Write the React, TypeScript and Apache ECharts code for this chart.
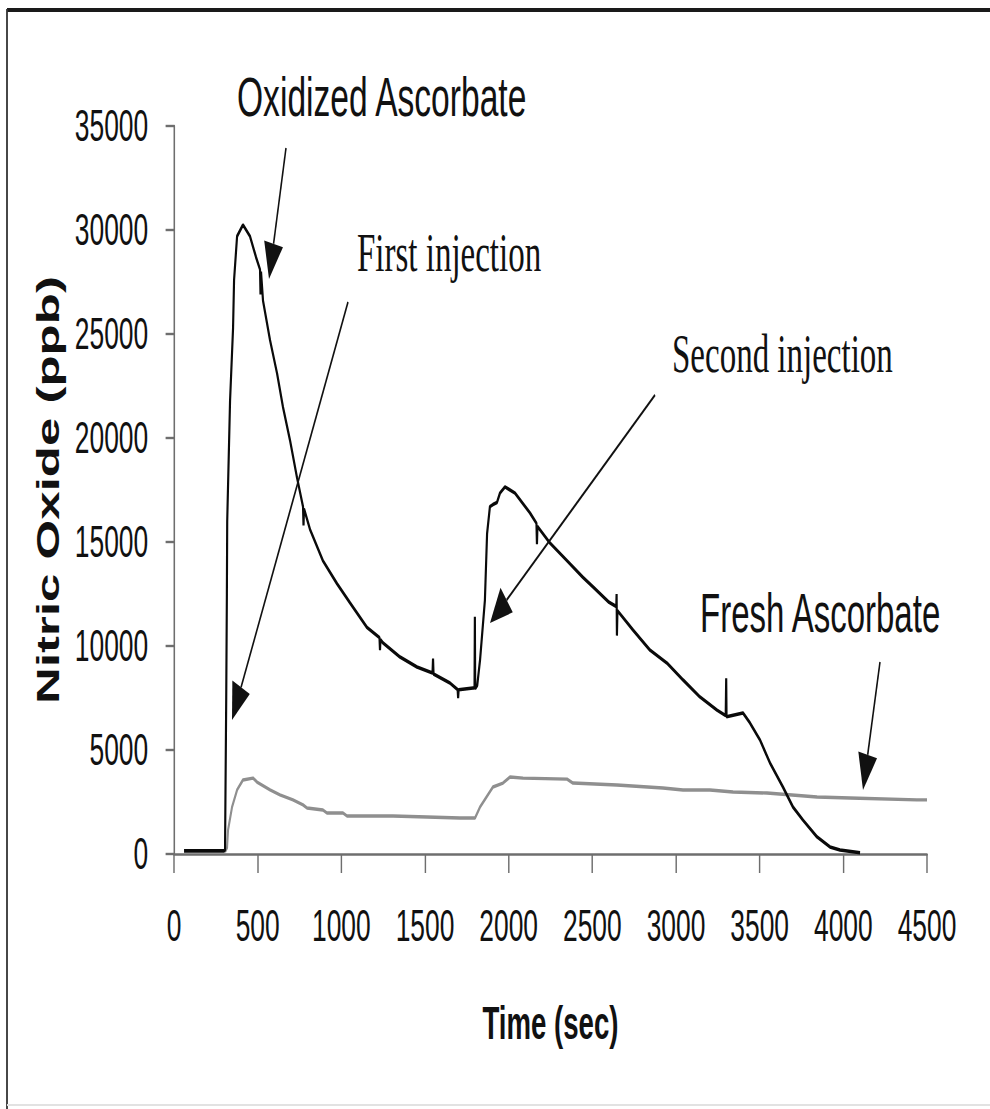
import React, { useEffect, useRef } from "react";
import * as echarts from "echarts";

// ---- data ----
const xTicks = [0, 500, 1000, 1500, 2000, 2500, 3000, 3500, 4000, 4500];
const yTicks = [0, 5000, 10000, 15000, 20000, 25000, 30000, 35000];

const oxidizedTime = [
  60, 300, 305, 312, 316, 318, 335, 353, 359, 377, 412, 454, 490, 514, 517, 520, 532, 574, 616, 651,
  693, 735, 771, 774, 777, 813, 890, 974, 1052, 1153, 1228, 1231, 1234, 1249, 1351, 1452, 1545, 1548,
  1551, 1649, 1695, 1698, 1701, 1787, 1796, 1798, 1800, 1812, 1829, 1858, 1871, 1888, 1906, 1930, 1948,
  1978, 2038, 2127, 2166, 2169, 2172, 2247, 2349, 2444, 2504, 2600, 2643, 2645, 2647, 2650, 2743, 2845,
  2946, 3042, 3143, 3245, 3297, 3300, 3302, 3400, 3442, 3502, 3562, 3639, 3699, 3759, 3843, 3920, 3980,
  4100,
];
const oxidizedNO = [
  150, 150, 200, 7400, 12500, 16000, 21800, 25300, 27600, 29700, 30250, 29700, 28700, 28100, 26900,
  28000, 26600, 24700, 23100, 21500, 19900, 18100, 16700, 15800, 16600, 15600, 14100, 13000, 12070,
  10900, 10400, 9800, 10300, 10150, 9470, 8990, 8700, 9400, 8650, 8220, 7900, 7500, 7900, 7980, 7980,
  11400, 7950, 8100, 9330, 12200, 15400, 16700, 16800, 16900, 17350, 17650, 17350, 16400, 15900, 14900,
  15750, 14950, 14100, 13300, 12840, 12100, 11900, 12500, 10500, 11700, 10770, 9800, 9180, 8370, 7550,
  6920, 6650, 8450, 6600, 6780, 6300, 5480, 4375, 3220, 2260, 1630, 820, 340, 190, 60,
];

const freshTime = [
  305, 317, 323, 347, 377, 412, 472, 496, 574, 633, 711, 771, 795, 890, 914, 1010, 1034, 1309, 1512,
  1709, 1799, 1829, 1906, 1966, 2008, 2086, 2349, 2384, 2647, 2922, 3042, 3203, 3341, 3544, 3843, 4040,
  4440, 4500,
];
const freshNO = [
  100, 300, 1150, 2260, 3080, 3560, 3650, 3460, 3080, 2840, 2600, 2360, 2210, 2115, 1970, 1970, 1830,
  1830, 1780, 1730, 1730, 2260, 3220, 3410, 3700, 3650, 3600, 3410, 3320, 3170, 3080, 3080, 2980, 2930,
  2740, 2690, 2600, 2600,
];

const seriesNames = ["Oxidized Ascorbate", "Fresh Ascorbate"];
const xAxisName = "Time (sec)";
const yAxisName = "Nitric Oxide (ppb)";

// ---- layout helpers (the original picture is horizontally compressed) ----
const SQUEEZE = 0.6;
const W = 990;
const H = 1109;
const CW = W / SQUEEZE;
const ux = (x: number) => x / SQUEEZE;

function arrow(sx: number, sy: number, tx: number, ty: number) {
  const x0 = ux(sx), y0 = sy, x1 = ux(tx), y1 = ty;
  const dx = x1 - x0, dy = y1 - y0;
  const len = Math.sqrt(dx * dx + dy * dy);
  const nx = dx / len, ny = dy / len;
  const L = 36, HW = 16;
  const bx = x1 - nx * L, by = y1 - ny * L;
  const px = -ny, py = nx;
  return [
    {
      type: "line",
      shape: { x1: x0, y1: y0, x2: bx, y2: by },
      style: { stroke: "#111", lineWidth: 2.6 },
      z: 100,
    },
    {
      type: "polygon",
      shape: {
        points: [
          [x1, y1],
          [bx + px * HW, by + py * HW],
          [bx - px * HW, by - py * HW],
        ],
      },
      style: { fill: "#111" },
      z: 100,
    },
  ];
}

function label(text: string, left: number, cy: number, family: string, size: number) {
  return {
    type: "text",
    x: ux(left),
    y: cy,
    z: 100,
    style: {
      text,
      fontSize: size,
      fontFamily: family,
      fill: "#111",
      align: "left",
      verticalAlign: "middle",
    },
  };
}

const SANS = "'Liberation Sans', Arial, sans-serif";
const SERIF = "'Liberation Serif', 'Times New Roman', serif";

export default function App() {
  const ref = useRef<HTMLDivElement>(null);

  useEffect(() => {
    if (!ref.current) return;
    const chart = echarts.init(ref.current, undefined, { renderer: "svg" });
    const oxData = oxidizedTime.map((t, i) => [t, oxidizedNO[i]]);
    const frData = freshTime.map((t, i) => [t, freshNO[i]]);

    chart.setOption({
      animation: false,
      backgroundColor: "#ffffff",
      grid: { left: 290, right: CW - ux(927), top: 126, bottom: H - 854, containLabel: false },
      xAxis: {
        type: "value",
        min: xTicks[0],
        max: xTicks[xTicks.length - 1],
        interval: 500,
        name: xAxisName,
        nameLocation: "middle",
        nameGap: 146,
        nameTextStyle: { fontFamily: SANS, fontWeight: "bold", fontSize: 46, color: "#111" },
        axisLine: { show: true, onZero: false, lineStyle: { color: "#6e6e6e", width: 2.6 } },
        axisTick: { show: true, inside: false, length: 19, lineStyle: { color: "#6e6e6e", width: 2.4 } },
        axisLabel: {
          fontFamily: SANS,
          fontSize: 44,
          color: "#111",
          margin: 50,
          formatter: (v: number) => String(v),
        },
        splitLine: { show: false },
      },
      yAxis: {
        type: "value",
        min: yTicks[0],
        max: yTicks[yTicks.length - 1],
        interval: 5000,
        name: yAxisName,
        nameLocation: "middle",
        nameRotate: 90,
        nameGap: 183,
        nameTextStyle: { fontFamily: SANS, fontWeight: "bold", fontSize: 51, color: "#111" },
        axisLine: { show: true, onZero: false, lineStyle: { color: "#6e6e6e", width: 2.6 } },
        axisTick: { show: true, inside: false, length: 14, lineStyle: { color: "#6e6e6e", width: 2.4 } },
        axisLabel: {
          fontFamily: SANS,
          fontSize: 44,
          color: "#111",
          margin: 43,
          formatter: (v: number) => String(v),
        },
        splitLine: { show: false },
      },
      series: [
        {
          name: seriesNames[0],
          type: "line",
          data: oxData,
          showSymbol: false,
          symbol: "none",
          smooth: false,
          lineStyle: { color: "#0a0a0a", width: 3.6 },
          z: 3,
        },
        {
          name: seriesNames[1],
          type: "line",
          data: frData,
          showSymbol: false,
          symbol: "none",
          smooth: false,
          lineStyle: { color: "#8f8f8f", width: 3.4 },
          z: 2,
        },
      ],
      graphic: [
        // frame
        { type: "line", shape: { x1: ux(7), y1: 10, x2: CW, y2: 10 }, style: { stroke: "#1a1a1a", lineWidth: 4 } },
        { type: "line", shape: { x1: ux(7), y1: 9, x2: ux(7), y2: H }, style: { stroke: "#333", lineWidth: 3 } },
        { type: "line", shape: { x1: ux(7), y1: H - 4, x2: CW, y2: H - 4 }, style: { stroke: "#e2e2e2", lineWidth: 2 } },
        // annotations
        label(seriesNames[0], 237, 97, SANS, 56),
        label("First injection", 357, 253, SERIF, 55),
        label("Second injection", 672, 354, SERIF, 55),
        label(seriesNames[1], 700, 613, SANS, 55),
        ...arrow(286, 148, 269, 279),
        ...arrow(348, 302, 232, 720),
        ...arrow(655, 395, 490, 623),
        ...arrow(880, 662, 863, 790),
      ],
    });
    return () => chart.dispose();
  }, []);

  return (
    <div
      style={{
        position: "fixed",
        left: 0,
        top: 0,
        width: W,
        height: H,
        overflow: "hidden",
        background: "#fff",
      }}
    >
      <div
        ref={ref}
        style={{ width: CW, height: H, transform: `scaleX(${SQUEEZE})`, transformOrigin: "0 0" }}
      />
    </div>
  );
}
